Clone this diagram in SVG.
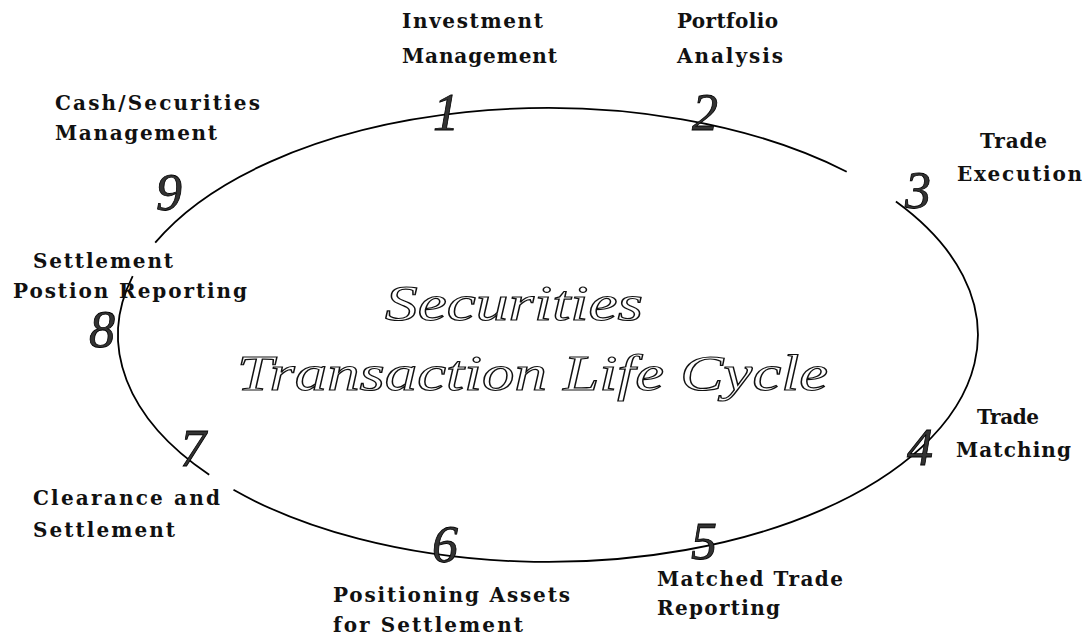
<svg xmlns="http://www.w3.org/2000/svg" width="1088" height="639" viewBox="0 0 1088 639">
<style>
.lbl{font-family:"DejaVu Serif","Liberation Serif",serif;font-weight:bold;font-size:20px;fill:#111}
.num{font-family:"Liberation Serif","Times New Roman",serif;font-style:italic;font-size:52px;fill:#333;stroke:#000;stroke-width:0.8;text-anchor:middle}
.title{font-family:"Liberation Serif","Times New Roman",serif;font-style:italic;font-size:50px;fill:#fff;stroke:#111;stroke-width:1.2}
.ring{fill:none;stroke:#000;stroke-width:1.8}
</style>
<rect width="1088" height="639" fill="#fff"/>
<g id="connectors">
<path class="ring" d="M895.9,201.6 A430,227 0 0 1 233.5,489.8"/>
<path class="ring" d="M209.2,474.8 A430,227 0 0 1 132.7,276.2"/>
<path class="ring" d="M155.2,242.7 A430,227 0 0 1 846.7,171.7"/>
</g>
<g id="title">
<text class="title" x="385" y="320" textLength="258" lengthAdjust="spacingAndGlyphs">Securities</text>
<text class="title" x="237" y="390" textLength="591" lengthAdjust="spacingAndGlyphs">Transaction Life Cycle</text>
</g>
<g id="node1">
<text class="num" x="446" y="130">1</text>
<text class="lbl" x="402" y="28" textLength="141">Investment</text>
<text class="lbl" x="402" y="63" textLength="155">Management</text>
</g>
<g id="node2">
<text class="num" x="705" y="130">2</text>
<text class="lbl" x="677" y="28" textLength="101">Portfolio</text>
<text class="lbl" x="677" y="63" textLength="106">Analysis</text>
</g>
<g id="node3">
<text class="num" x="918" y="208">3</text>
<text class="lbl" x="980" y="148" textLength="67">Trade</text>
<text class="lbl" x="957" y="181" textLength="125">Execution</text>
</g>
<g id="node4">
<text class="num" x="920" y="465">4</text>
<text class="lbl" x="977" y="424" textLength="62">Trade</text>
<text class="lbl" x="956" y="457" textLength="115">Matching</text>
</g>
<g id="node5">
<text class="num" x="704" y="559">5</text>
<text class="lbl" x="657" y="586" textLength="186">Matched Trade</text>
<text class="lbl" x="657" y="615" textLength="123">Reporting</text>
</g>
<g id="node6">
<text class="num" x="445" y="562">6</text>
<text class="lbl" x="333" y="602" textLength="237">Positioning Assets</text>
<text class="lbl" x="333" y="632" textLength="190">for Settlement</text>
</g>
<g id="node7">
<text class="num" x="193" y="466">7</text>
<text class="lbl" x="33" y="505" textLength="187">Clearance and</text>
<text class="lbl" x="33" y="537" textLength="142">Settlement</text>
</g>
<g id="node8">
<text class="num" x="102" y="347">8</text>
<text class="lbl" x="33" y="268" textLength="140">Settlement</text>
<text class="lbl" x="13" y="298" textLength="234">Postion Reporting</text>
</g>
<g id="node9">
<text class="num" x="169" y="210">9</text>
<text class="lbl" x="55" y="110" textLength="205">Cash/Securities</text>
<text class="lbl" x="55" y="140" textLength="162">Management</text>
</g>
</svg>
